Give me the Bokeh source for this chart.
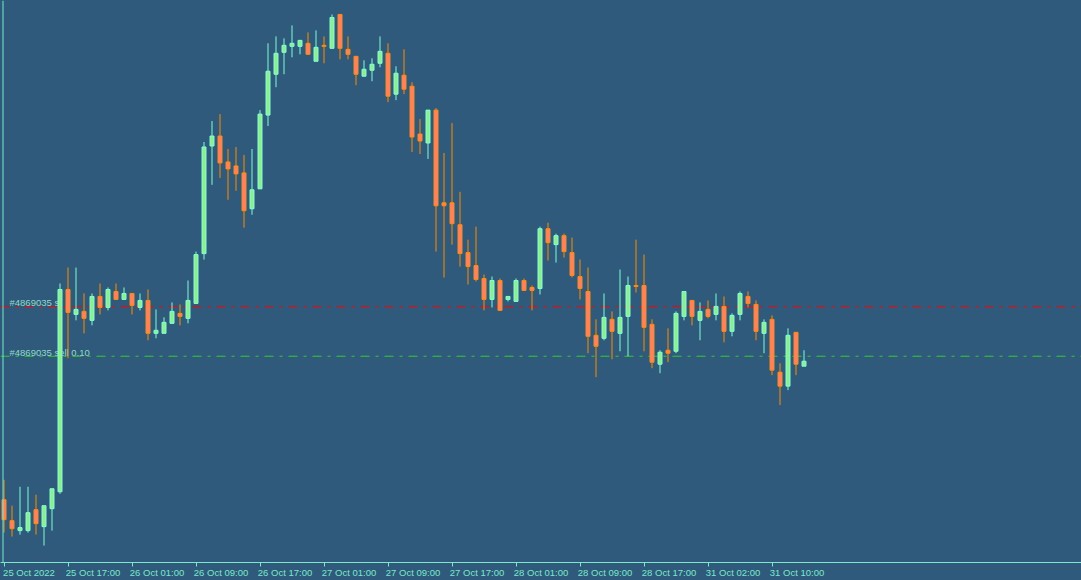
from bokeh.plotting import figure
from bokeh.models import Range1d, Span, Label, FixedTicker, ColumnDataSource
from bokeh.embed import file_html
from bokeh.resources import INLINE

# ---- data (hourly EURUSD-like candles, 25 Oct 09:00 .. 31 Oct 14:00) ----
open_ = [0.98495, 0.98390, 0.98340, 0.98340, 0.98445, 0.98360, 0.98450, 0.98535, 0.99550, 0.99425,
         0.99440, 0.99395, 0.99515, 0.99460, 0.99540, 0.99500, 0.99530, 0.99460, 0.99495, 0.99330,
         0.99330, 0.99380, 0.99430, 0.99405, 0.99480, 0.99730, 1.00270, 1.00320, 1.00190, 1.00170,
         1.00135, 0.99955, 1.00055, 1.00425, 1.00630, 1.00740, 1.00770, 1.00770, 1.00785, 1.00695,
         1.00775, 1.00760, 1.00930, 1.00755, 1.00720, 1.00620, 1.00650, 1.00685, 1.00735, 1.00530,
         1.00625, 1.00570, 1.00330, 1.00285, 1.00450, 0.99985, 0.99985, 0.99875, 0.99735, 0.99670,
         0.99605, 0.99500, 0.99595, 0.99500, 0.99490, 0.99595, 0.99560, 0.99555, 0.99855, 0.99775,
         0.99820, 0.99735, 0.99615, 0.99540, 0.99320, 0.99305, 0.99400, 0.99330, 0.99415, 0.99570,
         0.99570, 0.99375, 0.99175, 0.99245, 0.99240, 0.99415, 0.99495, 0.99395, 0.99450, 0.99425,
         0.99465, 0.99340, 0.99425, 0.99515, 0.99475, 0.99330, 0.99400, 0.99135, 0.99065, 0.99335,
         0.99165]
high = [0.98595, 0.98465, 0.98560, 0.98560, 0.98520, 0.98465, 0.98550, 0.99580, 0.99660, 0.99660,
        0.99530, 0.99530, 0.99580, 0.99560, 0.99580, 0.99560, 0.99530, 0.99530, 0.99550, 0.99450,
        0.99410, 0.99485, 0.99475, 0.99595, 0.99740, 1.00290, 1.00395, 1.00430, 1.00255, 1.00265,
        1.00225, 1.00255, 1.00450, 1.00785, 1.00820, 1.00810, 1.00875, 1.00800, 1.00840, 1.00850,
        1.00820, 1.00930, 1.00930, 1.00820, 1.00720, 1.00700, 1.00710, 1.00820, 1.00785, 1.00670,
        1.00755, 1.00590, 1.00405, 1.00450, 1.00460, 1.00235, 1.00385, 1.00040, 0.99800, 0.99865,
        0.99625, 0.99615, 0.99605, 0.99515, 0.99605, 0.99605, 0.99570, 0.99865, 0.99885, 0.99830,
        0.99830, 0.99810, 0.99700, 0.99660, 0.99400, 0.99530, 0.99440, 0.99650, 0.99615, 0.99800,
        0.99725, 0.99400, 0.99245, 0.99355, 0.99440, 0.99540, 0.99495, 0.99485, 0.99495, 0.99530,
        0.99515, 0.99430, 0.99540, 0.99540, 0.99495, 0.99400, 0.99420, 0.99180, 0.99355, 0.99335,
        0.99245]
low = [0.98330, 0.98310, 0.98320, 0.98330, 0.98320, 0.98265, 0.98340, 0.98525, 0.99205, 0.99395,
       0.99330, 0.99370, 0.99425, 0.99445, 0.99500, 0.99500, 0.99425, 0.99445, 0.99295, 0.99305,
       0.99330, 0.99380, 0.99370, 0.99380, 0.99480, 0.99700, 1.00075, 1.00110, 1.00000, 1.00045,
       0.99860, 0.99925, 1.00055, 1.00370, 1.00565, 1.00630, 1.00715, 1.00730, 1.00730, 1.00695,
       1.00685, 1.00760, 1.00705, 1.00705, 1.00575, 1.00620, 1.00595, 1.00665, 1.00490, 1.00500,
       1.00530, 1.00240, 1.00230, 1.00205, 0.99740, 0.99610, 0.99775, 0.99665, 0.99575, 0.99590,
       0.99445, 0.99460, 0.99445, 0.99490, 0.99490, 0.99545, 0.99445, 0.99525, 0.99695, 0.99685,
       0.99710, 0.99610, 0.99500, 0.99230, 0.99110, 0.99295, 0.99200, 0.99240, 0.99215, 0.99535,
       0.99240, 0.99155, 0.99130, 0.99185, 0.99230, 0.99395, 0.99370, 0.99295, 0.99405, 0.99395,
       0.99285, 0.99315, 0.99395, 0.99460, 0.99295, 0.99230, 0.99120, 0.98970, 0.99045, 0.99120,
       0.99165]
close = [0.98395, 0.98350, 0.98355, 0.98430, 0.98375, 0.98465, 0.98550, 0.99550, 0.99435, 0.99450,
         0.99405, 0.99515, 0.99460, 0.99550, 0.99500, 0.99530, 0.99470, 0.99495, 0.99330, 0.99345,
         0.99385, 0.99440, 0.99415, 0.99495, 0.99725, 1.00265, 1.00320, 1.00185, 1.00155, 1.00130,
         0.99945, 1.00050, 1.00430, 1.00645, 1.00735, 1.00775, 1.00785, 1.00800, 1.00730, 1.00765,
         1.00770, 1.00915, 1.00760, 1.00730, 1.00630, 1.00655, 1.00680, 1.00745, 1.00520, 1.00635,
         1.00555, 1.00315, 1.00295, 1.00450, 0.99970, 0.99970, 0.99880, 0.99730, 0.99665, 0.99600,
         0.99500, 0.99595, 0.99445, 0.99515, 0.99595, 0.99545, 0.99545, 0.99855, 0.99785, 0.99820,
         0.99740, 0.99620, 0.99555, 0.99315, 0.99265, 0.99410, 0.99340, 0.99410, 0.99570, 0.99565,
         0.99360, 0.99185, 0.99235, 0.99230, 0.99430, 0.99540, 0.99415, 0.99440, 0.99415, 0.99465,
         0.99340, 0.99420, 0.99530, 0.99480, 0.99340, 0.99385, 0.99145, 0.99065, 0.99320, 0.99175,
         0.99190]

tick_bars = [0, 8, 16, 24, 32, 40, 48, 56, 64, 72, 80, 88, 96]
tick_labels = ["25 Oct 2022", "25 Oct 17:00", "26 Oct 01:00", "26 Oct 09:00", "26 Oct 17:00",
               "27 Oct 01:00", "27 Oct 09:00", "27 Oct 17:00", "28 Oct 01:00", "28 Oct 09:00",
               "28 Oct 17:00", "31 Oct 02:00", "31 Oct 10:00"]

sl_price = 0.99465
entry_price = 0.99215
order_labels = ["#4869035 sl", "#4869035 sell 0.10"]

# ---- style ----
BG = "#2f5a7c"
FG = "#7ae8cc"
BULL_FILL, BULL_LINE = "#90ee90", "#7fffd4"
BEAR_FILL, BEAR_LINE = "#fa8072", "#ff8c00"
FONT = "Liberation Sans"

W, H = 1081, 580
BAR_PX = 8
BOTTOM = 16
PX_PRICE = 0.00005
x_start = -3.5 / BAR_PX
y_top = 1.01

p = figure(width=W, height=H, output_backend="svg", toolbar_location=None,
           x_range=Range1d(x_start, x_start + W / BAR_PX),
           y_range=Range1d(y_top - (H - BOTTOM) * PX_PRICE, y_top),
           y_axis_location=None,
           min_border_left=0, min_border_right=0, min_border_top=0, min_border_bottom=BOTTOM)
p.background_fill_color = BG
p.border_fill_color = BG
p.outline_line_color = None
p.grid.visible = False

# one axis: time ticks drawn as (minor) tick marks, labels placed so each starts at its tick
LABEL_SHIFT = 25 / BAR_PX
label_pos = [b + LABEL_SHIFT for b in tick_bars]
ax = p.xaxis[0]
ax.ticker = FixedTicker(ticks=label_pos, minor_ticks=tick_bars)
ax.major_label_overrides = {lp: t for lp, t in zip(label_pos, tick_labels)}
ax.major_tick_line_color = None
ax.major_tick_in = 0
ax.major_tick_out = 4
ax.minor_tick_line_color = FG
ax.minor_tick_in = 0
ax.minor_tick_out = 4
ax.axis_line_color = FG
ax.major_label_standoff = 0
ax.major_label_text_color = FG
ax.major_label_text_font = FONT
ax.major_label_text_font_size = "9.5px"

# left border
p.add_layout(Span(location=x_start + 2.5 / BAR_PX, dimension="height",
                  line_color=FG, line_width=1))

# order lines
p.add_layout(Span(location=sl_price, dimension="width", line_color="#ff0000",
                  line_width=1, line_dash="9 6 3 6", level="underlay"))
p.add_layout(Span(location=entry_price, dimension="width", line_color="#32cd32",
                  line_width=1, line_dash="9 6 3 6", level="underlay"))
for lvl, txt in zip([sl_price, entry_price], order_labels):
    p.add_layout(Label(x=9, x_units="screen", y=lvl, y_offset=4, text=txt,
                       text_color="#8fd9c6", text_font=FONT, text_font_size="9.5px",
                       text_baseline="alphabetic", level="underlay"))

# candles
idx = list(range(len(open_)))
bull = [c >= o for o, c in zip(open_, close)]
src = ColumnDataSource(dict(
    x=idx, high=high, low=low,
    top=[max(o, c) for o, c in zip(open_, close)],
    bottom=[min(o, c) for o, c in zip(open_, close)],
    fill=[BULL_FILL if b else BEAR_FILL for b in bull],
    line=[BULL_LINE if b else BEAR_LINE for b in bull],
))
p.segment(x0="x", y0="low", x1="x", y1="high", line_color="line", line_width=1, source=src)
p.vbar(x="x", width=0.5, top="top", bottom="bottom", fill_color="fill",
       line_color="line", line_width=1, source=src)

html = file_html(p, INLINE, title="chart")
html = html.replace("<head>", "<head><style>html,body{margin:0;padding:0;overflow:hidden;background:#2f5a7c}</style>", 1)
open("out.html", "w").write(html)
